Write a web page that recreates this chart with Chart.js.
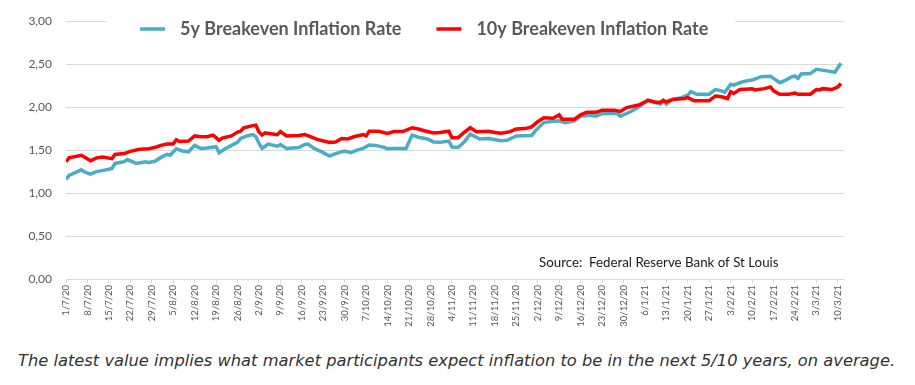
<!DOCTYPE html>
<html>
<head>
<meta charset="utf-8">
<script src="https://cdn.jsdelivr.net/npm/chart.js@4.4.1/dist/chart.umd.min.js"></script>
<style>
  html, body { margin: 0; padding: 0; background: #ffffff; }
  #wrap { position: relative; width: 915px; height: 385px; overflow: hidden; }
  #box { position: absolute; left: 0; top: 0; width: 915px; height: 340px; }
  #caption { position: absolute; left: 18px; top: 351px; white-space: nowrap;
    font-family: 'DejaVu Sans', sans-serif; font-style: italic; font-size: 16.3px; color: #333333; }
</style>
</head>
<body>
<div id="wrap">
  <div id="box"><canvas id="c"></canvas></div>
  <div id="caption">The latest value implies what market participants expect inflation to be in the next 5/10 years, on average.</div>
</div>
<script>
// Tick labels (weekly, day offsets 0,7,14,... from 1/7/20)
const tickLabels = ['1/7/20','8/7/20','15/7/20','22/7/20','29/7/20','5/8/20','12/8/20','19/8/20','26/8/20',
  '2/9/20','9/9/20','16/9/20','23/9/20','30/9/20','7/10/20','14/10/20','21/10/20','28/10/20',
  '4/11/20','11/11/20','18/11/20','25/11/20','2/12/20','9/12/20','16/12/20','23/12/20','30/12/20',
  '6/1/21','13/1/21','20/1/21','27/1/21','3/2/21','10/2/21','17/2/21','24/2/21','3/3/21','10/3/21'];

// 5y breakeven: day offsets (since 1/7/20) and values
const days5y = [0,1,5,6,8,10,13,15,16,19,20,23,26,27,29,31,33,34,36,38,40,42,44,46,49,50,52,54,56,57,59,61,62,63,64,66,69,70,72,76,78,79,81,84,86,88,91,93,95,97,99,101,104,105,107,111,113,115,118,120,122,125,126,128,130,132,135,138,142,144,147,152,153,156,159,161,163,166,168,171,173,175,180,181,184,187,190,192,194,195,196,198,201,203,204,206,210,212,214,215,217,218,220,222,224,227,230,231,233,235,237,238,239,240,243,245,248,251,253];
const fiveYear = [1.16,1.205,1.27,1.245,1.22,1.25,1.27,1.285,1.345,1.365,1.39,1.345,1.365,1.355,1.37,1.415,1.45,1.44,1.515,1.49,1.48,1.555,1.52,1.525,1.54,1.47,1.515,1.555,1.59,1.635,1.665,1.68,1.655,1.58,1.52,1.57,1.545,1.565,1.52,1.53,1.565,1.57,1.52,1.47,1.43,1.46,1.49,1.47,1.50,1.52,1.56,1.555,1.53,1.515,1.52,1.52,1.675,1.65,1.63,1.595,1.59,1.605,1.535,1.53,1.595,1.685,1.63,1.635,1.61,1.615,1.665,1.67,1.715,1.82,1.835,1.84,1.82,1.84,1.895,1.905,1.895,1.925,1.925,1.895,1.94,2.00,2.08,2.06,2.035,2.075,2.035,2.09,2.11,2.14,2.18,2.15,2.15,2.205,2.19,2.17,2.265,2.255,2.285,2.305,2.315,2.355,2.36,2.335,2.285,2.315,2.355,2.36,2.335,2.385,2.39,2.44,2.425,2.405,2.51];

// 10y breakeven: day offsets and values
const days10y = [0,1,5,6,8,10,12,15,16,19,21,24,27,29,31,33,35,36,37,40,42,44,46,48,50,51,54,56,57,58,61,62,63,64,65,69,70,72,76,78,80,82,86,88,90,92,94,97,98,99,102,105,107,110,113,115,117,120,122,125,126,128,130,132,134,138,140,142,145,147,150,152,154,156,159,161,162,166,168,170,173,175,179,181,183,187,190,192,194,195,196,198,202,203,205,210,212,214,216,217,218,220,224,225,228,230,231,233,236,238,239,243,245,246,247,250,252,253];
const tenYear = [1.364,1.41,1.44,1.42,1.375,1.41,1.42,1.40,1.45,1.46,1.485,1.51,1.515,1.53,1.555,1.57,1.57,1.62,1.60,1.605,1.665,1.655,1.655,1.675,1.615,1.64,1.665,1.71,1.72,1.76,1.785,1.79,1.71,1.675,1.70,1.68,1.715,1.665,1.67,1.68,1.655,1.625,1.59,1.595,1.635,1.63,1.655,1.68,1.665,1.72,1.72,1.695,1.715,1.715,1.76,1.745,1.725,1.70,1.705,1.72,1.645,1.645,1.705,1.76,1.715,1.72,1.705,1.695,1.715,1.745,1.75,1.77,1.83,1.875,1.87,1.91,1.86,1.86,1.91,1.94,1.94,1.965,1.965,1.95,1.995,2.025,2.08,2.06,2.055,2.08,2.06,2.09,2.10,2.11,2.075,2.075,2.13,2.12,2.10,2.18,2.16,2.205,2.215,2.20,2.215,2.235,2.19,2.15,2.15,2.165,2.15,2.15,2.205,2.20,2.215,2.205,2.235,2.275];

const seriesNames = ['5y Breakeven Inflation Rate', '10y Breakeven Inflation Rate'];
const sourceText = 'Source:  Federal Reserve Bank of St Louis';

const toPoints = (xs, ys) => xs.map((x, i) => ({ x: x, y: ys[i] }));

const overlay = {
  id: 'overlay',
  afterDatasetsDraw(chart) {
    const ctx = chart.ctx;
    ctx.save();
    // legend background (covers top gridline like the original)
    ctx.fillStyle = '#ffffff';
    ctx.fillRect(106, 12, 629, 34);
    ctx.font = 'bold 18px Lato, sans-serif';
    ctx.textBaseline = 'middle';
    ctx.textAlign = 'left';
    let x = 140;
    const y = 29;
    chart.data.datasets.forEach((ds) => {
      ctx.strokeStyle = ds.borderColor;
      ctx.lineWidth = 3.5;
      ctx.beginPath();
      ctx.moveTo(x, y);
      ctx.lineTo(x + 25, y);
      ctx.stroke();
      x += 25 + 15;
      ctx.fillStyle = '#595959';
      ctx.fillText(ds.label, x, y);
      x += ctx.measureText(ds.label).width + 35;
    });
    // source note
    ctx.font = '13.3px Lato, sans-serif';
    ctx.fillStyle = '#1a1a1a';
    ctx.fillText(sourceText, 539, 263);
    ctx.restore();
  }
};

new Chart(document.getElementById('c'), {
  type: 'line',
  data: {
    datasets: [
      { label: seriesNames[0], data: toPoints(days5y, fiveYear), borderColor: '#4BACC6',
        backgroundColor: '#4BACC6', borderWidth: 3.5, pointRadius: 0, tension: 0, order: 1 },
      { label: seriesNames[1], data: toPoints(days10y, tenYear), borderColor: '#FF0000',
        backgroundColor: '#FF0000', borderWidth: 3.5, pointRadius: 0, tension: 0, order: 0 }
    ]
  },
  options: {
    responsive: true,
    maintainAspectRatio: false,
    animation: false,
    layout: { padding: { left: 0, right: 71, top: 21, bottom: 0 } },
    plugins: { legend: { display: false }, tooltip: { enabled: false } },
    scales: {
      x: {
        type: 'linear', min: 0, max: 254,
        afterFit: (s) => { s.height = 61; },
        grid: { drawOnChartArea: false, drawTicks: true, tickLength: 4, color: '#d9d9d9' },
        border: { display: true, color: '#d9d9d9' },
        ticks: {
          stepSize: 7, includeBounds: false, autoSkip: false, maxRotation: 90, minRotation: 90,
          padding: 2, color: '#595959',
          font: { family: "'Liberation Sans Narrow', Lato, sans-serif", size: 9.5 },
          callback: (v) => tickLabels[Math.round(v / 7)]
        }
      },
      y: {
        min: 0, max: 3,
        afterFit: (s) => { s.width = 66; },
        grid: { color: '#d9d9d9', drawTicks: false },
        border: { display: false },
        ticks: {
          stepSize: 0.5, padding: 14, color: '#595959',
          font: { family: 'Lato, sans-serif', size: 12 },
          callback: (v) => v.toFixed(2).replace('.', ',')
        }
      }
    }
  },
  plugins: [overlay]
});
</script>
</body>
</html>
